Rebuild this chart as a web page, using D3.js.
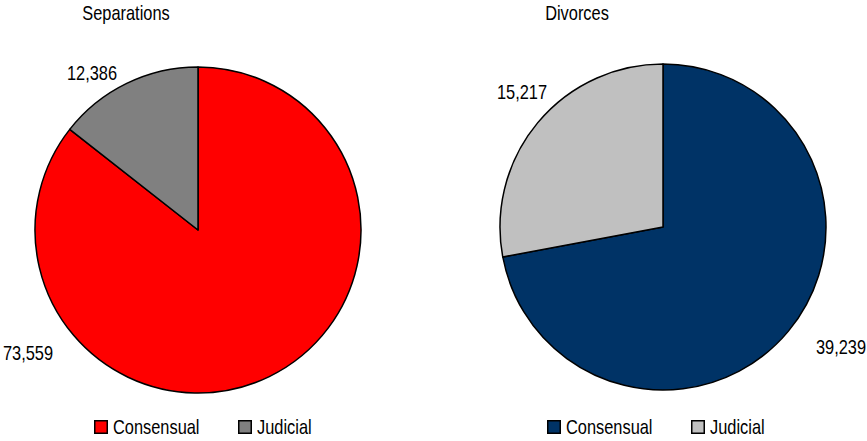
<!DOCTYPE html>
<html>
<head>
<meta charset="utf-8">
<script src="https://cdn.jsdelivr.net/npm/d3@7"></script>
<style>
  body { margin: 0; background: #fff; }
  text { font-family: "Liberation Sans", Arial, sans-serif; fill: #000; font-size: 20px; }
</style>
</head>
<body>
<div id="chart"></div>
<script>
const WIDTH = 867, HEIGHT = 441;

// data
const categories = ["Consensual", "Judicial"];
const separations = [73559, 12386];
const divorces = [39239, 15217];
const sepColors = ["#ff0000", "#808080"];
const divColors = ["#003366", "#c0c0c0"];

const PIES = [
  { title: "Separations", values: separations, colors: sepColors,
    cx: 198, cy: 230, titleX: 126,
    labels: [{ x: 28, y: 360 }, { x: 92, y: 80 }],
    legendX: 94 },
  { title: "Divorces", values: divorces, colors: divColors,
    cx: 663, cy: 227, titleX: 577,
    labels: [{ x: 841, y: 354 }, { x: 522, y: 99 }],
    legendX: 547 },
];
const R = 163;
const NARROW = 0.82; // fake Arial Narrow

const svg = d3.select("#chart").append("svg")
  .attr("width", WIDTH).attr("height", HEIGHT);

const pie = d3.pie().sort(null);
const arc = d3.arc().innerRadius(0).outerRadius(R);
const fmt = d3.format(",");

function label(parent, x, y, str, anchor) {
  parent.append("g")
    .attr("transform", `translate(${x},${y}) scale(${NARROW},1)`)
    .append("text")
    .attr("text-anchor", anchor || "start")
    .text(str);
}

PIES.forEach(p => {
  label(svg, p.titleX, 20, p.title, "middle");

  const g = svg.append("g").attr("transform", `translate(${p.cx},${p.cy})`);
  g.selectAll("path").data(pie(p.values)).enter().append("path")
    .attr("d", arc)
    .attr("fill", (d, i) => p.colors[i])
    .attr("stroke", "#000")
    .attr("stroke-width", 1.5)
    .attr("stroke-linejoin", "round");

  p.values.forEach((v, i) => {
    label(svg, p.labels[i].x, p.labels[i].y, fmt(v), "middle");
  });

  // legend
  const lg = svg.append("g").attr("transform", `translate(${p.legendX},420)`);
  categories.forEach((c, i) => {
    const x = i * 144;
    lg.append("rect")
      .attr("x", x + 0.75).attr("y", 0.75)
      .attr("width", 12.5).attr("height", 12.5)
      .attr("fill", p.colors[i])
      .attr("stroke", "#000").attr("stroke-width", 1.5);
    label(lg, x + 19, 14, c);
  });
});
</script>
</body>
</html>
